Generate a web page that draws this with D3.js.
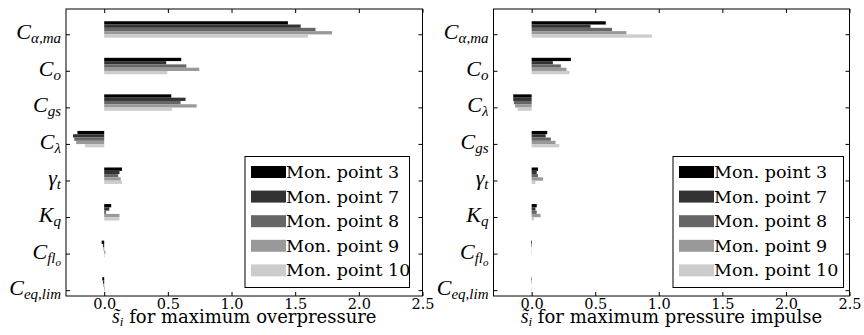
<!DOCTYPE html>
<html>
<head>
<meta charset="utf-8">
<script src="https://cdn.jsdelivr.net/npm/d3@7"></script>
<style>
  body { margin: 0; background: #fff; }
  svg { display: block; }
</style>
</head>
<body>
<script>
// series (monitoring points) and their grey levels
const series = ["Mon. point 3", "Mon. point 7", "Mon. point 8", "Mon. point 9", "Mon. point 10"];
const greys = ["#000000", "#333333", "#666666", "#999999", "#cccccc"];
const xTicks = [0.0, 0.5, 1.0, 1.5, 2.0, 2.5];

// parameter labels: [symbol, subscript, sub-subscript]
const paramsOver = [["C", "α,ma"], ["C", "o"], ["C", "gs"], ["C", "λ"], ["γ", "t"], ["K", "q"], ["C", "fl", "o"], ["C", "eq,lim"]];
const paramsImp = [["C", "α,ma"], ["C", "o"], ["C", "λ"], ["C", "gs"], ["γ", "t"], ["K", "q"], ["C", "fl", "o"], ["C", "eq,lim"]];

// sensitivity for maximum overpressure
const over3 = [1.443, 0.605, 0.527, -0.21, 0.14, 0.055, -0.02, -0.015];
const over7 = [1.543, 0.487, 0.639, -0.245, 0.12, 0.04, -0.01, -0.01];
const over8 = [1.66, 0.645, 0.60, -0.235, 0.11, 0.015, -0.005, -0.005];
const over9 = [1.79, 0.747, 0.726, -0.22, 0.13, 0.12, 0.01, 0.005];
const over10 = [1.60, 0.495, 0.532, -0.15, 0.14, 0.12, 0.005, 0.003];

// sensitivity for maximum pressure impulse
const imp3 = [0.583, 0.309, -0.145, 0.123, 0.05, 0.04, -0.005, -0.003];
const imp7 = [0.463, 0.167, -0.145, 0.11, 0.04, 0.03, -0.003, -0.002];
const imp8 = [0.632, 0.23, -0.14, 0.151, 0.05, 0.04, 0.0, 0.0];
const imp9 = [0.745, 0.274, -0.13, 0.188, 0.09, 0.07, 0.002, 0.002];
const imp10 = [0.946, 0.298, -0.11, 0.217, 0.03, 0.02, 0.001, 0.001];

const W = 864, H = 335;
const svg = d3.select("body").append("svg")
  .attr("width", W).attr("height", H)
  .style("background", "#fff");

const serif = "'DejaVu Serif', serif";
const mathFont = "'Liberation Serif', 'DejaVu Serif', serif";

function drawPanel(opt) {
  const x = d3.scaleLinear().domain([-0.3, 2.5]).range([opt.left, opt.right]);
  const y = d3.scaleLinear().domain([-0.69, 7.16]).range([9, 296]);
  const g = svg.append("g");
  const barH = 0.09;

  // bars
  opt.values.forEach((vals, k) => {
    g.append("g").selectAll("rect")
      .data(vals)
      .join("rect")
      .attr("x", d => x(Math.min(0, d)))
      .attr("width", d => Math.abs(x(d) - x(0)))
      .attr("y", (d, i) => y(i - 0.355 + k * barH))
      .attr("height", y(barH) - y(0))
      .attr("fill", greys[k]);
  });

  // frame
  g.append("rect")
    .attr("x", opt.left).attr("y", 9)
    .attr("width", opt.right - opt.left).attr("height", 287)
    .attr("fill", "none").attr("stroke", "#000").attr("stroke-width", 1);

  // x ticks, inward on both sides
  const xa = d3.axisBottom(x).tickValues(xTicks).tickFormat(d3.format(".1f")).tickSizeInner(-4).tickSizeOuter(0).tickPadding(3);
  const xg = g.append("g").attr("transform", "translate(0,296)").call(xa);
  xg.select(".domain").remove();
  xg.selectAll("text").attr("font-family", serif).attr("font-size", 14.5).attr("fill", "#000");
  const xt = d3.axisTop(x).tickValues(xTicks).tickFormat("").tickSizeInner(-4).tickSizeOuter(0);
  g.append("g").attr("transform", "translate(0,9)").call(xt).select(".domain").remove();

  // y ticks, inward on both sides
  const idx = d3.range(opt.params.length);
  const yl = d3.axisLeft(y).tickValues(idx).tickFormat("").tickSizeInner(-4).tickSizeOuter(0);
  g.append("g").attr("transform", `translate(${opt.left},0)`).call(yl).select(".domain").remove();
  const yr = d3.axisRight(y).tickValues(idx).tickFormat("").tickSizeInner(-4).tickSizeOuter(0);
  g.append("g").attr("transform", `translate(${opt.right},0)`).call(yr).select(".domain").remove();

  // parameter labels
  opt.params.forEach((p, i) => {
    const t = g.append("text")
      .attr("x", opt.left - 5)
      .attr("y", y(i) + 5)
      .attr("text-anchor", "end")
      .attr("font-family", mathFont)
      .attr("font-style", "italic")
      .attr("font-size", 22);
    t.append("tspan").text(p[0]);
    t.append("tspan").attr("font-size", 15).attr("dy", 4).text(p[1]);
    if (p[2]) t.append("tspan").attr("font-size", 11).attr("dy", 3).text(p[2]);
  });

  // x label
  const lab = g.append("text")
    .attr("x", (opt.left + opt.right) / 2)
    .attr("y", 323)
    .attr("text-anchor", "middle")
    .attr("font-family", serif)
    .attr("font-size", 18);
  lab.append("tspan").attr("font-family", mathFont).attr("font-style", "italic").attr("font-size", 20).text("s\u0303");
  lab.append("tspan").attr("font-family", mathFont).attr("font-style", "italic").attr("font-size", 13).attr("dy", 3).text("i");
  lab.append("tspan").attr("dy", -3).text(" " + opt.xlabel);

  // legend
  const lg = g.append("g");
  lg.append("rect")
    .attr("x", opt.legX).attr("y", 156.5)
    .attr("width", opt.legW).attr("height", 131)
    .attr("fill", "#fff").attr("stroke", "#000").attr("stroke-width", 1);
  series.forEach((s, k) => {
    const cy = 172 + k * 24.6;
    lg.append("rect")
      .attr("x", opt.legX + 6).attr("y", cy - 6)
      .attr("width", 35).attr("height", 12)
      .attr("fill", greys[k]);
    lg.append("text")
      .attr("x", opt.legX + 41).attr("y", cy + 6)
      .attr("font-family", serif).attr("font-size", 17.5)
      .text(s);
  });
}

drawPanel({
  left: 66, right: 422.5,
  params: paramsOver,
  values: [over3, over7, over8, over9, over10],
  xlabel: "for maximum overpressure",
  legX: 245, legW: 164.5
});

drawPanel({
  left: 493.5, right: 849.5,
  params: paramsImp,
  values: [imp3, imp7, imp8, imp9, imp10],
  xlabel: "for maximum pressure impulse",
  legX: 673, legW: 170.5
});
</script>
</body>
</html>
